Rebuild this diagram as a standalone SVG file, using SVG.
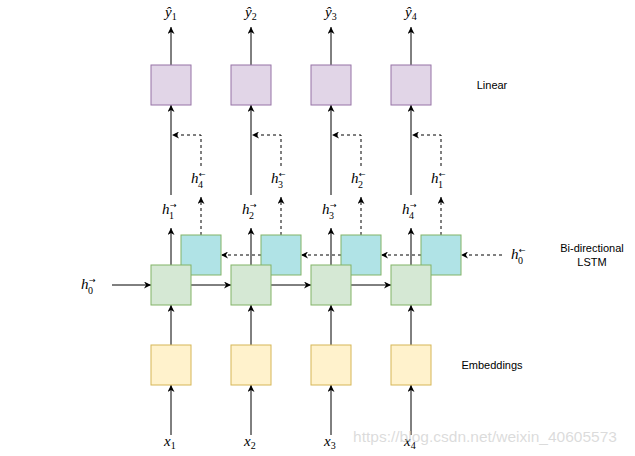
<svg xmlns="http://www.w3.org/2000/svg" width="635" height="456" viewBox="0 0 635 456">
<defs>
<marker id="ah" viewBox="0 0 10 10" refX="10" refY="5" markerWidth="7" markerHeight="7" markerUnits="userSpaceOnUse" orient="auto">
<path d="M0,0 L10,5 L0,10 L3,5 Z" fill="#000"/>
</marker>
<style>
.ln{stroke:#000;stroke-width:1;fill:none;marker-end:url(#ah)}
.ds{stroke:#000;stroke-width:1;fill:none;stroke-dasharray:3 3}
.dsa{stroke:#000;stroke-width:1;fill:none;stroke-dasharray:3 3;marker-end:url(#ah)}
.lin{fill:#e1d5e7;stroke:#9673a6}
.cy{fill:#b0e3e6;stroke:#82b366}
.gr{fill:#d5e8d4;stroke:#82b366}
.ye{fill:#fff2cc;stroke:#d6b656}
.m{font-family:"Liberation Serif","DejaVu Serif",serif;font-style:italic;font-size:15px;fill:#000}
.s{font-family:"Liberation Serif","DejaVu Serif",serif;font-style:normal;font-size:10px}
.a{font-family:"DejaVu Sans","Liberation Sans",sans-serif;font-style:normal;font-size:8px}
.t{font-family:"Liberation Sans",Arial,sans-serif;font-size:11px;fill:#000;text-anchor:middle}
</style>
</defs>
<g id="connectors">
<!-- outputs -->
<path class="ln" d="M171,65 V27"/><path class="ln" d="M251,65 V27"/><path class="ln" d="M331,65 V27"/><path class="ln" d="M411,65 V27"/>
<!-- forward h to linear -->
<path class="ln" d="M171,195 V105"/><path class="ln" d="M251,195 V105"/><path class="ln" d="M331,195 V105"/><path class="ln" d="M411,195 V105"/>
<!-- green to h label -->
<path class="ln" d="M171,265 V228"/><path class="ln" d="M251,265 V228"/><path class="ln" d="M331,265 V228"/><path class="ln" d="M411,265 V228"/>
<!-- cyan to h label (dashed) -->
<path class="dsa" d="M201,235 V197"/><path class="dsa" d="M281,235 V197"/><path class="dsa" d="M361,235 V197"/><path class="dsa" d="M441,235 V197"/>
<!-- backward label to linear line -->
<path class="dsa" d="M201,166 V135 H172"/><path class="dsa" d="M281,166 V135 H252"/><path class="dsa" d="M361,166 V135 H332"/><path class="dsa" d="M441,166 V135 H412"/>
<!-- forward recurrence -->
<path class="ln" d="M112,285 H151"/><path class="ln" d="M191,285 H231"/><path class="ln" d="M271,285 H311"/><path class="ln" d="M351,285 H391"/>
<!-- backward recurrence -->
<path class="dsa" d="M502,255 H461"/><path class="dsa" d="M421,255 H381"/><path class="dsa" d="M341,255 H301"/><path class="dsa" d="M261,255 H221"/>
<!-- embeddings to green -->
<path class="ln" d="M171,345 V305"/><path class="ln" d="M251,345 V305"/><path class="ln" d="M331,345 V305"/><path class="ln" d="M411,345 V305"/>
<!-- inputs -->
<path class="ln" d="M171,435 V385"/><path class="ln" d="M251,435 V385"/><path class="ln" d="M331,435 V385"/><path class="ln" d="M411,435 V385"/>
</g>
<g id="linear1"><rect class="lin" x="151" y="65" width="40" height="40"/></g>
<g id="linear2"><rect class="lin" x="231" y="65" width="40" height="40"/></g>
<g id="linear3"><rect class="lin" x="311" y="65" width="40" height="40"/></g>
<g id="linear4"><rect class="lin" x="391" y="65" width="40" height="40"/></g>
<g id="bw1"><rect class="cy" x="181" y="235" width="40" height="40"/></g>
<g id="bw2"><rect class="cy" x="261" y="235" width="40" height="40"/></g>
<g id="bw3"><rect class="cy" x="341" y="235" width="40" height="40"/></g>
<g id="bw4"><rect class="cy" x="421" y="235" width="40" height="40"/></g>
<g id="fw1"><rect class="gr" x="151" y="265" width="40" height="40"/></g>
<g id="fw2"><rect class="gr" x="231" y="265" width="40" height="40"/></g>
<g id="fw3"><rect class="gr" x="311" y="265" width="40" height="40"/></g>
<g id="fw4"><rect class="gr" x="391" y="265" width="40" height="40"/></g>
<g id="emb1"><rect class="ye" x="151" y="345" width="40" height="40"/></g>
<g id="emb2"><rect class="ye" x="231" y="345" width="40" height="40"/></g>
<g id="emb3"><rect class="ye" x="311" y="345" width="40" height="40"/></g>
<g id="emb4"><rect class="ye" x="391" y="345" width="40" height="40"/></g>
<g id="labels-y">
<text class="m" x="165" y="17">ŷ<tspan class="s" dy="3">1</tspan></text>
<text class="m" x="245" y="17">ŷ<tspan class="s" dy="3">2</tspan></text>
<text class="m" x="325" y="17">ŷ<tspan class="s" dy="3">3</tspan></text>
<text class="m" x="405" y="17">ŷ<tspan class="s" dy="3">4</tspan></text>
</g>
<g id="labels-hf">
<text class="m" x="162" y="214">h<tspan class="a" x="170" y="208">→</tspan><tspan class="s" x="169" y="219">1</tspan></text>
<text class="m" x="242" y="214">h<tspan class="a" x="250" y="208">→</tspan><tspan class="s" x="249" y="219">2</tspan></text>
<text class="m" x="322" y="214">h<tspan class="a" x="330" y="208">→</tspan><tspan class="s" x="329" y="219">3</tspan></text>
<text class="m" x="402" y="214">h<tspan class="a" x="410" y="208">→</tspan><tspan class="s" x="409" y="219">4</tspan></text>
<text class="m" x="81" y="289">h<tspan class="a" x="89" y="283">→</tspan><tspan class="s" x="88" y="294">0</tspan></text>
</g>
<g id="labels-hb">
<text class="m" x="191" y="183">h<tspan class="a" x="199" y="177">←</tspan><tspan class="s" x="198" y="188">4</tspan></text>
<text class="m" x="271" y="183">h<tspan class="a" x="279" y="177">←</tspan><tspan class="s" x="278" y="188">3</tspan></text>
<text class="m" x="351" y="183">h<tspan class="a" x="359" y="177">←</tspan><tspan class="s" x="358" y="188">2</tspan></text>
<text class="m" x="431" y="183">h<tspan class="a" x="439" y="177">←</tspan><tspan class="s" x="438" y="188">1</tspan></text>
<text class="m" x="511" y="259">h<tspan class="a" x="519" y="253">←</tspan><tspan class="s" x="518" y="264">0</tspan></text>
</g>
<g id="labels-x">
<text class="m" x="164" y="446">x<tspan class="s" dy="3">1</tspan></text>
<text class="m" x="244" y="446">x<tspan class="s" dy="3">2</tspan></text>
<text class="m" x="324" y="446">x<tspan class="s" dy="3">3</tspan></text>
<text class="m" x="404" y="446">x<tspan class="s" dy="3">4</tspan></text>
</g>
<g id="layer-labels">
<text class="t" x="492" y="89">Linear</text>
<text class="t" x="592" y="252">Bi-directional</text>
<text class="t" x="592" y="266">LSTM</text>
<text class="t" x="492" y="369">Embeddings</text>
</g>
<text x="353" y="442" font-family="Liberation Sans,Arial,sans-serif" font-size="15" fill="#d0d0d0" fill-opacity="0.75" textLength="264" lengthAdjust="spacingAndGlyphs">https://blog.csdn.net/weixin_40605573</text>
</svg>
